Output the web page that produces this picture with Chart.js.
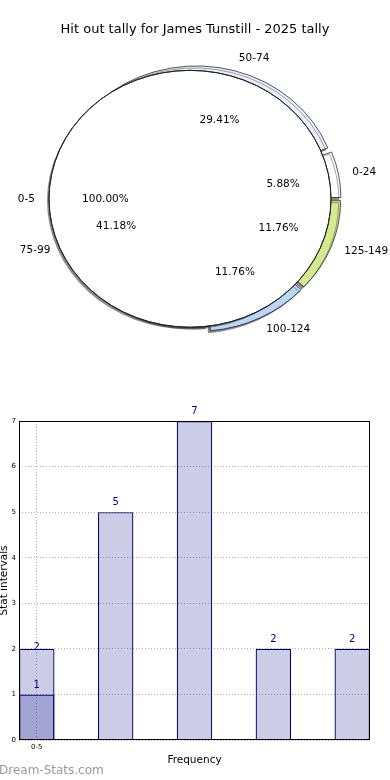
<!DOCTYPE html>
<html>
<head>
<meta charset="utf-8">
<script src="https://cdn.jsdelivr.net/npm/chart.js@4.4.1/dist/chart.umd.min.js"></script>
<style>
  html, body { margin: 0; padding: 0; background: #fff; }
  body { width: 390px; height: 780px; position: relative; overflow: hidden; font-family: 'DejaVu Sans', sans-serif; }
  #pieChart { position: absolute; left: 0; top: 0; }
  #barChart { position: absolute; left: 0; top: 345px; }
  .watermark { position: absolute; left: -1px; top: 762px; font-size: 12px; line-height: 16px; color: #999; }
</style>
</head>
<body>
<canvas id="pieChart" width="390" height="345"></canvas>
<canvas id="barChart" width="390" height="435"></canvas>
<div class="watermark">Dream-Stats.com</div>
<script>
const pieTitle = 'Hit out tally for James Tunstill - 2025 tally';
const pieCats = ['0-24', '50-74', '75-99', '100-124', '125-149'];
const pieCounts = [1, 5, 7, 2, 2];
const innerCats = ['0-5'];
const innerCounts = [17];

const barX = [0, 1, 2, 3, 4];
const barValues = [2, 5, 7, 2, 2];
const overlayX = [0];
const overlayValues = [1];
const xTickPos = [0];
const xTickLabels = ['0-5'];
const yTitle = 'Stat intervals';
const xTitle = 'Frequency';

const FONT = 'DejaVu Sans';
const PIE_R = 141;      // radius in px (horizontal)
const KY = 0.911;       // the original pie is slightly squashed
const DISK_SHIFT = 5;   // inner pie is exploded to the left
Chart.defaults.font.family = FONT;

// matplotlib goes counter-clockwise from 3 o'clock, chart.js clockwise -> reverse
const cw = a => a.slice().reverse();
const sliceColors = ['#ffffff', '#e9f0fc', '#d5e4f7', '#b9d6f9', '#d4ea8e'];
const sliceOffsets = [20, 20, 0, 20, 20];
const pieTotal = pieCounts.reduce((a, b) => a + b, 0);
const innerTotal = innerCounts.reduce((a, b) => a + b, 0);

const pieGeometry = {
    id: 'pieGeometry',
    afterDatasetsUpdate(chart) {
        chart.getDatasetMeta(0).data.forEach(arc => {
            const off = (arc.options.offset || 0) / 4;
            const fix = 1 - Math.sin(Math.min(Math.PI, arc.circumference));
            arc.innerRadius = 0;
            arc.outerRadius = PIE_R - off * fix;
        });
        [1, 2].forEach(d => {
            chart.getDatasetMeta(d).data.forEach(arc => {
                arc.x -= DISK_SHIFT;
                arc.outerRadius = PIE_R;
                arc.innerRadius = d === 2 ? PIE_R : 0;
            });
        });
    },
    beforeDatasetsDraw(chart) {
        const cy = chart.getDatasetMeta(0).data[0].y;
        const ctx = chart.ctx;
        ctx.save();
        ctx.translate(0, cy);
        ctx.scale(1, KY);
        ctx.translate(0, -cy);
    },
    beforeDatasetDraw(chart, args) {
        const ctx = chart.ctx;
        if (args.index < 2) {
            ctx.shadowColor = 'rgba(60,60,60,0.6)';
            ctx.shadowOffsetX = -2;
            ctx.shadowOffsetY = 2;
            ctx.shadowBlur = 0;
        } else {
            ctx.shadowColor = 'rgba(0,0,0,0)';
        }
    },
    afterDatasetsDraw(chart) {
        chart.ctx.restore();
    },
    afterDraw(chart) {
        const ctx = chart.ctx;
        const cy = chart.getDatasetMeta(0).data[0].y;
        const put = (arc, shift, dist) => {
            const a = (arc.startAngle + arc.endAngle) / 2;
            return {
                x: arc.x + Math.cos(a) * (shift + dist),
                y: cy + (arc.y - cy + Math.sin(a) * (shift + dist)) * KY,
                c: Math.cos(a)
            };
        };
        ctx.save();
        ctx.font = '10.5px "' + FONT + '"';
        ctx.fillStyle = '#000';
        ctx.textBaseline = 'middle';
        const draw = (arc, shift, name, pct) => {
            const l = put(arc, shift, PIE_R * 1.1);
            ctx.textAlign = l.c > 0 ? 'left' : 'right';
            ctx.fillText(name, l.x, l.y);
            const p = put(arc, shift, PIE_R * 0.6);
            ctx.textAlign = 'center';
            ctx.fillText(pct, p.x, p.y);
        };
        const cats = cw(pieCats), counts = cw(pieCounts);
        chart.getDatasetMeta(0).data.forEach((arc, i) => {
            draw(arc, (arc.options.offset || 0) / 4, cats[i], (counts[i] / pieTotal * 100).toFixed(2) + '%');
        });
        chart.getDatasetMeta(1).data.forEach((arc, i) => {
            draw(arc, 0, innerCats[i], (innerCounts[i] / innerTotal * 100).toFixed(2) + '%');
        });
        ctx.restore();
    }
};

new Chart(document.getElementById('pieChart'), {
    type: 'pie',
    data: {
        labels: cw(pieCats),
        datasets: [
            { data: cw(pieCounts), backgroundColor: cw(sliceColors), borderColor: '#222', borderWidth: 0.8, offset: cw(sliceOffsets), order: 2 },
            { data: innerCounts, backgroundColor: '#ffffff', borderWidth: 0, order: 1 },
            { data: innerCounts, backgroundColor: 'rgba(0,0,0,0)', borderColor: '#222', borderWidth: 1, order: 0 }
        ]
    },
    options: {
        responsive: false,
        animation: false,
        events: [],
        rotation: 90,
        radius: PIE_R,
        layout: { padding: 0 },
        plugins: {
            legend: { display: false },
            tooltip: { enabled: false },
            title: {
                display: true, text: pieTitle, color: '#000',
                font: { family: FONT, size: 13, weight: 'normal' },
                padding: { top: 22, bottom: 15 }
            }
        }
    },
    plugins: [pieGeometry]
});

const barValueLabels = {
    id: 'barValueLabels',
    afterDraw(chart) {
        const ctx = chart.ctx;
        const { left, top, right, bottom } = chart.chartArea;
        ctx.save();
        ctx.strokeStyle = '#000';
        ctx.lineWidth = 1;
        ctx.strokeRect(left + 0.5, top + 0.5, right - left - 1, bottom - top - 1);
        ctx.font = '10px "' + FONT + '"';
        ctx.fillStyle = '#000080';
        ctx.textAlign = 'center';
        ctx.textBaseline = 'middle';
        chart.data.datasets.forEach((ds, d) => {
            chart.getDatasetMeta(d).data.forEach((bar, i) => {
                const pt = ds.data[i];
                const covered = d === 0 && overlayX.includes(pt.x);
                ctx.fillText(pt.y, bar.x, bar.y - (covered ? 1.5 : 9.5));
            });
        });
        ctx.restore();
    }
};

const barStyle = {
    backgroundColor: 'rgba(0,0,128,0.2)',
    borderColor: '#00006e',
    borderWidth: 1.2,
    grouped: false,
    barPercentage: 0.45,
    categoryPercentage: 1
};

new Chart(document.getElementById('barChart'), {
    type: 'bar',
    data: {
        datasets: [
            Object.assign({ data: barX.map((x, i) => ({ x, y: barValues[i] })), order: 2 }, barStyle),
            Object.assign({ data: overlayX.map((x, i) => ({ x, y: overlayValues[i] })), order: 1 }, barStyle)
        ]
    },
    options: {
        responsive: false,
        animation: false,
        events: [],
        layout: { padding: { top: 76, right: 20, bottom: 0, left: 0 } },
        plugins: { legend: { display: false }, tooltip: { enabled: false } },
        scales: {
            x: {
                type: 'linear', min: -0.225, max: 4.225, z: 1, offset: false,
                afterBuildTicks: s => { s.ticks = xTickPos.map(v => ({ value: v })); },
                afterFit: s => { s.height = 40; },
                ticks: { callback: (v, i) => xTickLabels[i], font: { size: 7 }, color: '#000', padding: 3, maxRotation: 0, autoSkip: false },
                grid: { color: '#b4b4b4', lineWidth: 1, drawTicks: false, offset: false },
                border: { display: false, dash: [1, 2] },
                title: { display: true, text: xTitle, color: '#000', font: { size: 10.5 }, padding: { top: 0, bottom: 13.7 } }
            },
            y: {
                min: 0, max: 7, z: 1,
                afterFit: s => { s.width = 19; },
                ticks: { stepSize: 1, font: { size: 7 }, color: '#000', padding: 3 },
                grid: { color: '#b4b4b4', lineWidth: 1, drawTicks: false },
                border: { display: false, dash: [1, 2] },
                title: { display: true, text: yTitle, color: '#000', font: { size: 10.5 }, padding: { top: -2, bottom: 0 } }
            }
        }
    },
    plugins: [barValueLabels]
});
</script>
</body>
</html>
